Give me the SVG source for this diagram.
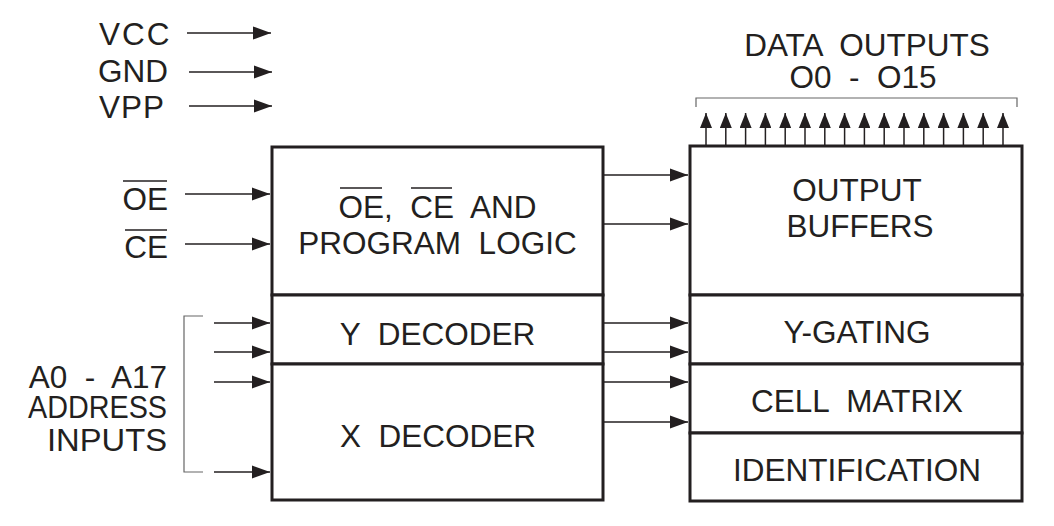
<svg xmlns="http://www.w3.org/2000/svg" width="1054" height="526" viewBox="0 0 1054 526">
<style>
.t{font-family:"Liberation Sans",Arial,Helvetica,sans-serif;font-size:31.5px;fill:#231f20;white-space:pre}
.m{text-anchor:middle}
.e{text-anchor:end}
.box{fill:#fff;stroke:#231f20;stroke-width:3}
.w{stroke:#231f20;stroke-width:1.5;fill:none}
.ov{stroke:#231f20;stroke-width:1.5}
.br{stroke:#666;stroke-width:1.2;fill:none}
</style>
<defs>
<marker id="ah" markerUnits="userSpaceOnUse" markerWidth="18" markerHeight="14" refX="18" refY="7" orient="auto">
<path d="M0,0.5 L18,7 L0,13.5 z" fill="#231f20"/>
</marker>
<marker id="ahs" markerUnits="userSpaceOnUse" markerWidth="15" markerHeight="12" refX="15" refY="6" orient="auto">
<path d="M0,0 L15,6 L0,12 z" fill="#231f20"/>
</marker>
</defs>
<rect width="1054" height="526" fill="#fff"/>

<g id="pins">
<text class="t" x="99" y="45" letter-spacing="2">VCC</text>
<text class="t" x="98" y="82">GND</text>
<text class="t" x="99" y="118" letter-spacing="1">VPP</text>
<text class="t e" x="168" y="210">OE</text>
<line class="ov" x1="123" y1="181" x2="167" y2="181"/>
<text class="t e" x="168" y="258">CE</text>
<line class="ov" x1="125" y1="230" x2="167" y2="230"/>
</g>

<g id="address-label">
<text class="t e" x="167" y="388" xml:space="preserve">A0  -  A17</text>
<text class="t" x="28" y="418" textLength="139" lengthAdjust="spacingAndGlyphs">ADDRESS</text>
<text class="t" x="47" y="451" textLength="120" lengthAdjust="spacingAndGlyphs">INPUTS</text>
<path class="br" d="M203,316 H184 V472 H203"/>
</g>

<g id="data-outputs-label">
<text class="t m" x="867" y="56" xml:space="preserve">DATA  OUTPUTS</text>
<text class="t m" x="863" y="88" xml:space="preserve">O0  -  O15</text>
<path class="br" d="M696,107 V98 H1017 V107"/>
</g>

<g id="program-logic">
<rect class="box" x="272" y="147" width="331" height="148"/>
<text class="t m" x="437.5" y="218" xml:space="preserve">OE,  CE  AND</text>
<line class="ov" x1="340" y1="188" x2="382" y2="188"/>
<line class="ov" x1="411" y1="188" x2="452" y2="188"/>
<text class="t m" x="437.5" y="254" xml:space="preserve">PROGRAM  LOGIC</text>
</g>
<g id="y-decoder">
<rect class="box" x="272" y="295" width="331" height="69"/>
<text class="t m" x="437.5" y="345" xml:space="preserve">Y  DECODER</text>
</g>
<g id="x-decoder">
<rect class="box" x="272" y="364" width="331" height="136"/>
<text class="t m" x="438" y="447" xml:space="preserve">X  DECODER</text>
</g>

<g id="output-buffers">
<rect class="box" x="690" y="146" width="332" height="149"/>
<text class="t m" x="857" y="201">OUTPUT</text>
<text class="t m" x="860" y="237">BUFFERS</text>
</g>
<g id="y-gating">
<rect class="box" x="690" y="295" width="332" height="69"/>
<text class="t m" x="857" y="343">Y-GATING</text>
</g>
<g id="cell-matrix">
<rect class="box" x="690" y="364" width="332" height="69"/>
<text class="t m" x="857" y="412" xml:space="preserve">CELL  MATRIX</text>
</g>
<g id="identification">
<rect class="box" x="690" y="433" width="332" height="68"/>
<text class="t m" x="857" y="481">IDENTIFICATION</text>
</g>

<g id="connectors">
<line class="w" x1="187" y1="33" x2="271" y2="33" marker-end="url(#ah)"/>
<line class="w" x1="189" y1="72" x2="272" y2="72" marker-end="url(#ah)"/>
<line class="w" x1="189" y1="106" x2="272" y2="106" marker-end="url(#ah)"/>
<line class="w" x1="185" y1="194" x2="270" y2="194" marker-end="url(#ah)"/>
<line class="w" x1="185" y1="244" x2="270" y2="244" marker-end="url(#ah)"/>
<line class="w" x1="214" y1="323" x2="270" y2="323" marker-end="url(#ah)"/>
<line class="w" x1="214" y1="352" x2="270" y2="352" marker-end="url(#ah)"/>
<line class="w" x1="214" y1="382" x2="270" y2="382" marker-end="url(#ah)"/>
<line class="w" x1="214" y1="472" x2="270" y2="472" marker-end="url(#ah)"/>
<line class="w" x1="604" y1="175" x2="688" y2="175" marker-end="url(#ah)"/>
<line class="w" x1="604" y1="224" x2="688" y2="224" marker-end="url(#ah)"/>
<line class="w" x1="604" y1="323" x2="688" y2="323" marker-end="url(#ah)"/>
<line class="w" x1="604" y1="352" x2="688" y2="352" marker-end="url(#ah)"/>
<line class="w" x1="604" y1="382" x2="688" y2="382" marker-end="url(#ah)"/>
<line class="w" x1="604" y1="422" x2="688" y2="422" marker-end="url(#ah)"/>
<line class="w" x1="706" y1="145" x2="706" y2="113" marker-end="url(#ahs)"/>
<line class="w" x1="725.8" y1="145" x2="725.8" y2="113" marker-end="url(#ahs)"/>
<line class="w" x1="745.6" y1="145" x2="745.6" y2="113" marker-end="url(#ahs)"/>
<line class="w" x1="765.4" y1="145" x2="765.4" y2="113" marker-end="url(#ahs)"/>
<line class="w" x1="785.2" y1="145" x2="785.2" y2="113" marker-end="url(#ahs)"/>
<line class="w" x1="805" y1="145" x2="805" y2="113" marker-end="url(#ahs)"/>
<line class="w" x1="824.8" y1="145" x2="824.8" y2="113" marker-end="url(#ahs)"/>
<line class="w" x1="844.6" y1="145" x2="844.6" y2="113" marker-end="url(#ahs)"/>
<line class="w" x1="864.4" y1="145" x2="864.4" y2="113" marker-end="url(#ahs)"/>
<line class="w" x1="884.2" y1="145" x2="884.2" y2="113" marker-end="url(#ahs)"/>
<line class="w" x1="904" y1="145" x2="904" y2="113" marker-end="url(#ahs)"/>
<line class="w" x1="923.8" y1="145" x2="923.8" y2="113" marker-end="url(#ahs)"/>
<line class="w" x1="943.6" y1="145" x2="943.6" y2="113" marker-end="url(#ahs)"/>
<line class="w" x1="963.4" y1="145" x2="963.4" y2="113" marker-end="url(#ahs)"/>
<line class="w" x1="983.2" y1="145" x2="983.2" y2="113" marker-end="url(#ahs)"/>
<line class="w" x1="1003" y1="145" x2="1003" y2="113" marker-end="url(#ahs)"/>
</g>
</svg>
